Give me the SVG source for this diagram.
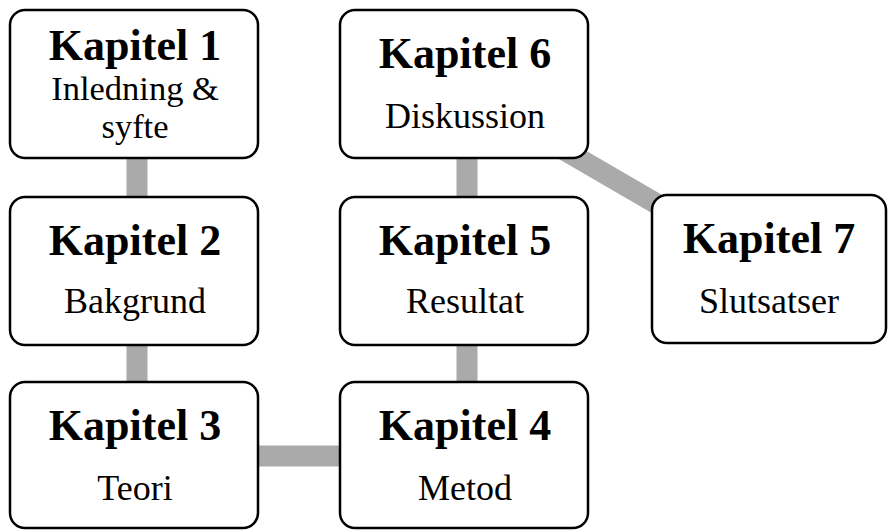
<svg xmlns="http://www.w3.org/2000/svg" width="888" height="530" viewBox="0 0 888 530">
<style>
.box{fill:#fff;stroke:#000;stroke-width:2.5}
.conn{stroke:#aaaaaa;stroke-width:21;fill:none}
.t{font-family:"Liberation Serif","Times New Roman",serif;font-weight:bold;font-size:44px;text-anchor:middle;fill:#000}
.s{font-family:"Liberation Serif","Times New Roman",serif;font-size:36px;text-anchor:middle;fill:#000}
.s2{font-size:34.5px}
</style>
<rect width="888" height="530" fill="#fff"/>
<g id="connectors">
<line class="conn" x1="137" y1="150" x2="137" y2="205"/>
<line class="conn" x1="137" y1="337" x2="137" y2="390"/>
<line class="conn" x1="250" y1="456" x2="348" y2="456"/>
<line class="conn" x1="467" y1="337" x2="467" y2="390"/>
<line class="conn" x1="467" y1="150" x2="467" y2="205"/>
<line class="conn" x1="540" y1="136" x2="700" y2="229"/>
</g>
<g id="k1">
<rect class="box" x="10" y="10" width="248" height="148" rx="15"/>
<text class="t" x="135" y="60">Kapitel 1</text>
<text class="s s2" x="135" y="100">Inledning &amp;</text>
<text class="s s2" x="135" y="138">syfte</text>
</g>
<g id="k2">
<rect class="box" x="10" y="197" width="248" height="148" rx="15"/>
<text class="t" x="135" y="255">Kapitel 2</text>
<text class="s" x="135" y="313">Bakgrund</text>
</g>
<g id="k3">
<rect class="box" x="10" y="382" width="248" height="146" rx="15"/>
<text class="t" x="135" y="440">Kapitel 3</text>
<text class="s" x="135" y="500">Teori</text>
</g>
<g id="k4">
<rect class="box" x="340" y="382" width="248" height="146" rx="15"/>
<text class="t" x="465" y="440">Kapitel 4</text>
<text class="s" x="465" y="500">Metod</text>
</g>
<g id="k5">
<rect class="box" x="340" y="197" width="248" height="148" rx="15"/>
<text class="t" x="465" y="255">Kapitel 5</text>
<text class="s" x="465" y="313">Resultat</text>
</g>
<g id="k6">
<rect class="box" x="340" y="10" width="248" height="148" rx="15"/>
<text class="t" x="465" y="68">Kapitel 6</text>
<text class="s" x="465" y="128">Diskussion</text>
</g>
<g id="k7">
<rect class="box" x="652" y="195" width="234" height="148" rx="15"/>
<text class="t" x="769" y="253">Kapitel 7</text>
<text class="s" x="769" y="313">Slutsatser</text>
</g>
</svg>
